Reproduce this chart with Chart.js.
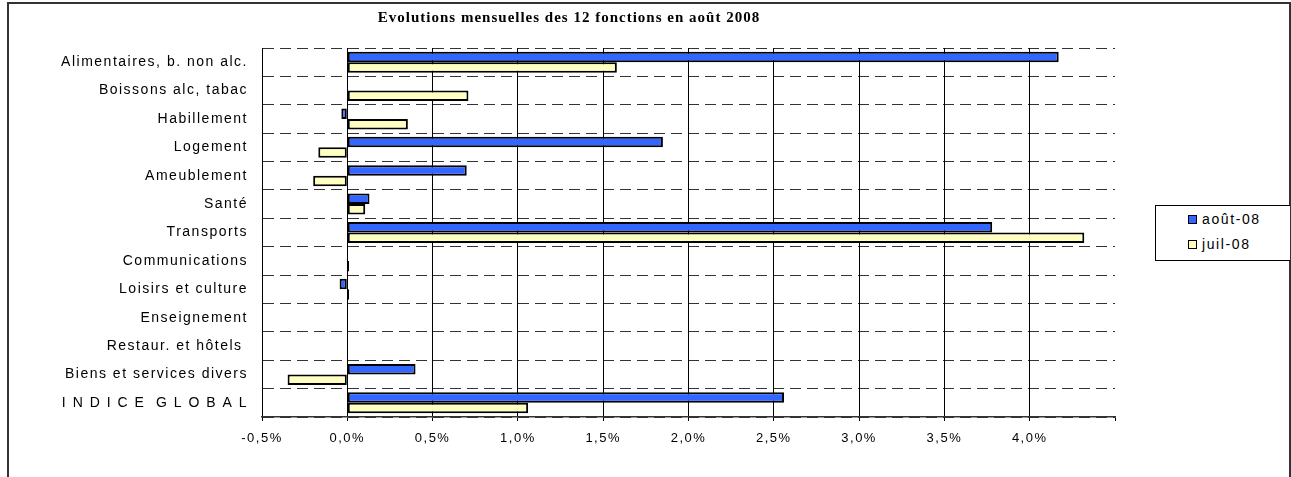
<!DOCTYPE html>
<html>
<head>
<meta charset="utf-8">
<script src="https://cdn.jsdelivr.net/npm/chart.js@4.4.1/dist/chart.umd.min.js"></script>
<style>
  html, body { margin: 0; padding: 0; background: #fff; }
  #wrap { position: relative; width: 1291px; height: 477px; overflow: hidden; }
  #frame { position: absolute; left: 7px; top: 2px; width: 1280px; height: 500px; border: 2px solid #333; }
  #title { position: absolute; left: 0; top: 9px; width: 1138px; text-align: center;
           font: bold 15px "Liberation Serif", "Times New Roman", serif; letter-spacing: 1px; color: #000; }
  #legend { position: absolute; left: 1155px; top: 205px; width: 134px; height: 54px; border: 1px solid #000; border-right: none;
            font: 14px "Liberation Sans", Arial, sans-serif; letter-spacing: 1.6px; color: #000; background: #fff; }
  .li { position: absolute; left: 32px; height: 16px; line-height: 16px; white-space: nowrap; }
  .sw { display: inline-block; width: 7px; height: 7px; border: 1px solid #000; margin-right: 5px; vertical-align: 0px; }
  canvas { position: absolute; left: 0; top: 0; }
</style>
</head>
<body>
<div id="wrap">
  <div id="frame"></div>
  <canvas id="c" width="1291" height="477"></canvas>
  <div id="title"></div>
  <div id="legend"></div>
</div>
<script>
const chartTitle = "Evolutions mensuelles des 12 fonctions en août 2008";
const categories = [
  "Alimentaires, b. non alc.",
  "Boissons alc, tabac",
  "Habillement",
  "Logement",
  "Ameublement",
  "Santé",
  "Transports",
  "Communications",
  "Loisirs et culture",
  "Enseignement",
  "Restaur. et hôtels ",
  "Biens et services divers",
  "I N D I C E  G L O B A L"
];
const seriesNames = ["août-08", "juil-08"];
const aout08 = [4.17, 0, -0.035, 1.85, 0.70, 0.13, 3.78, 0, -0.045, 0, 0, 0.40, 2.56];
const juil08 = [1.58, 0.71, 0.355, -0.17, -0.20, 0.105, 4.32, 0.01, 0.01, 0, 0, -0.35, 1.06];
const xMin = -0.5, xMax = 4.5, xStep = 0.5;
const seriesColors = ["#3366FF", "#FFFFC0"];

document.getElementById('title').textContent = chartTitle;
const leg = document.getElementById('legend');
seriesNames.forEach((n, i) => {
  const d = document.createElement('div');
  d.className = 'li';
  d.style.top = (i === 0 ? 5 : 30) + 'px';
  const s = document.createElement('span');
  s.className = 'sw';
  s.style.background = seriesColors[i];
  d.appendChild(s);
  d.appendChild(document.createTextNode(n));
  leg.appendChild(d);
});

const spacingPlugin = {
  id: 'spacing',
  beforeDraw(chart) { chart.ctx.letterSpacing = '1.5px'; }
};

const fmt = v => (v < 0 ? '-' : '') + Math.abs(v).toFixed(1).replace('.', ',') + '%';

new Chart(document.getElementById('c'), {
  type: 'bar',
  data: {
    labels: categories,
    datasets: [
      { label: seriesNames[0], data: aout08, backgroundColor: seriesColors[0], borderColor: '#000', borderWidth: 2, borderSkipped: false },
      { label: seriesNames[1], data: juil08, backgroundColor: seriesColors[1], borderColor: '#000', borderWidth: 2, borderSkipped: false }
    ]
  },
  options: {
    indexAxis: 'y',
    responsive: false,
    animation: false,
    devicePixelRatio: 1,
    layout: { padding: { top: 48, left: 8, right: 176, bottom: 0 } },
    datasets: { bar: { categoryPercentage: 0.74, barPercentage: 1.0 } },
    plugins: { legend: { display: false }, title: { display: false }, tooltip: { enabled: false } },
    scales: {
      y: {
        type: 'category',
        afterFit(s) { s.width = 254; },
        grid: { offset: true, color: '#333', lineWidth: 1, drawTicks: false },
        border: { display: true, color: '#000', width: 1, dash: [11, 6] },
        ticks: { autoSkip: false, padding: 14, color: '#000', font: { family: '"Liberation Sans", Arial, sans-serif', size: 14 } }
      },
      x: {
        type: 'linear',
        min: xMin, max: xMax,
        afterFit(s) { s.height = 60; },
        grid: {
          color: ctx => (ctx.tick && Math.abs(ctx.tick.value - xMax) < 1e-9) ? 'rgba(0,0,0,0)' : '#000',
          lineWidth: 1, tickLength: 4, tickColor: '#000'
        },
        border: { display: true, color: '#333', width: 1.5 },
        ticks: {
          stepSize: xStep, padding: 10, color: '#000',
          font: { family: '"Liberation Sans", Arial, sans-serif', size: 13 },
          callback: v => (Math.abs(v - xMax) < 1e-9 ? '' : fmt(v))
        }
      }
    }
  },
  plugins: [spacingPlugin]
});
</script>
</body>
</html>
